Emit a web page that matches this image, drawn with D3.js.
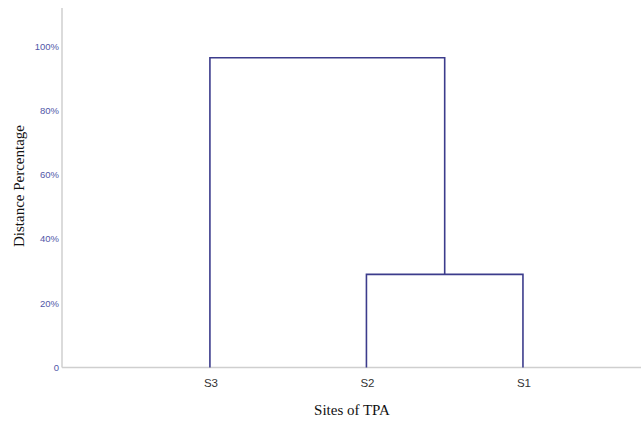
<!DOCTYPE html>
<html><head><meta charset="utf-8">
<script src="https://cdn.jsdelivr.net/npm/d3@7"></script>
<style>body{margin:0;background:#fff}</style>
</head><body>
<svg id="c" width="643" height="421"></svg>
<script>
const leaves = ["S3", "S2", "S1"];
const merges = [
  {left: "S2", right: "S1", height: 0.29, id: "A"},
  {left: "S3", right: "A", height: 0.965, id: "B"}
];
const yTicks = [0, 0.2, 0.4, 0.6, 0.8, 1.0];
const yTickLabels = ["0", "20%", "40%", "60%", "80%", "100%"];

const svg = d3.select("#c");
const m = {left: 62, right: 0, top: 8, bottom: 53};
const W = 643, H = 421;
const xi = d3.scalePoint().domain(leaves).range([m.left, W - m.right]).padding(0.856).align(0.552);
const y = d3.scaleLinear().domain([0, 1.12]).range([H - m.bottom - 0.5, m.top]);

// axes lines
svg.append("line").attr("x1", m.left).attr("x2", m.left).attr("y1", y(1.12)).attr("y2", y(0))
  .attr("stroke", "#cfcfcf").attr("stroke-width", 1.5);
svg.append("line").attr("x1", m.left).attr("x2", W - 2).attr("y1", y(0)).attr("y2", y(0))
  .attr("stroke", "#cfcfcf").attr("stroke-width", 1.5);

// y tick labels
svg.append("g").selectAll("text").data(yTicks).join("text")
  .attr("x", m.left - 3).attr("y", d => y(d)).attr("dy", "0.35em")
  .attr("text-anchor", "end").attr("font-family", "Arial, 'Liberation Sans', sans-serif")
  .attr("font-size", 9.5).attr("fill", "#5257a8").text((d, i) => yTickLabels[i]);

// x tick labels
svg.append("g").selectAll("text").data(leaves).join("text")
  .attr("x", d => xi(d) + 1).attr("y", 387)
  .attr("text-anchor", "middle").attr("font-family", "Arial, 'Liberation Sans', sans-serif")
  .attr("font-size", 11.5).attr("fill", "#333").text(d => d);

// dendrogram
const pos = {}; leaves.forEach(l => pos[l] = {x: xi(l), h: 0});
const g = svg.append("g").attr("fill", "none").attr("stroke", "#3c3c8c").attr("stroke-width", 1.6);
merges.forEach(mg => {
  const a = pos[mg.left], b = pos[mg.right];
  g.append("path").attr("d",
    `M${a.x},${y(a.h)}V${y(mg.height)}H${b.x}V${y(b.h)}`);
  pos[mg.id] = {x: (a.x + b.x) / 2, h: mg.height};
});

// axis titles
svg.append("text").attr("x", 352).attr("y", 415).attr("text-anchor", "middle")
  .attr("font-family", "'Liberation Serif', 'Times New Roman', serif").attr("font-size", 15)
  .attr("fill", "#111").text("Sites of TPA");
svg.append("text").attr("transform", "translate(24,186) rotate(-90)").attr("text-anchor", "middle")
  .attr("font-family", "'Liberation Serif', 'Times New Roman', serif").attr("font-size", 15)
  .attr("fill", "#111").text("Distance Percentage");
</script>
</body></html>
